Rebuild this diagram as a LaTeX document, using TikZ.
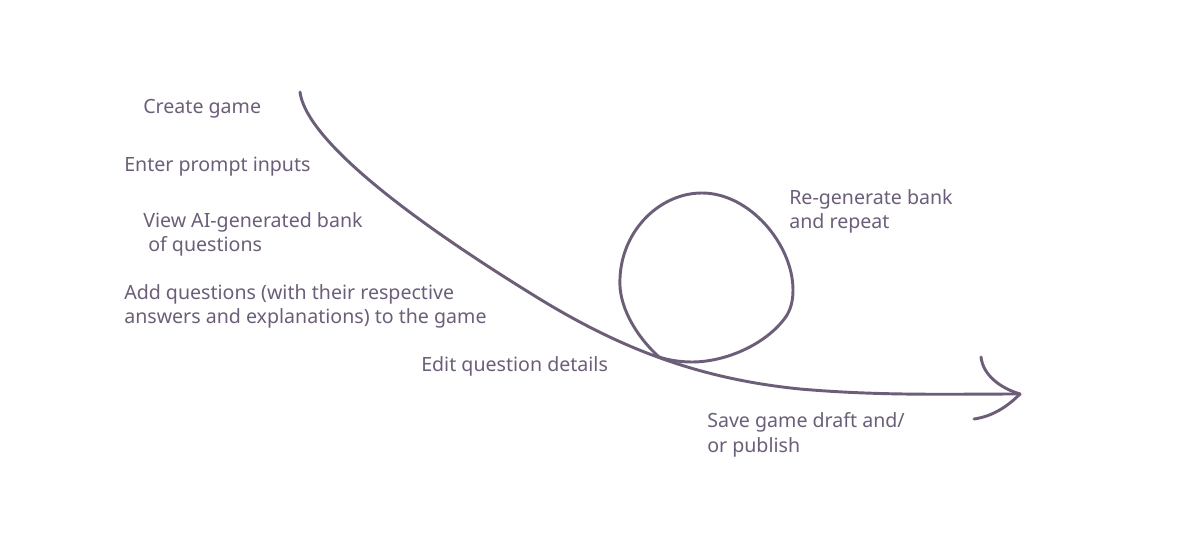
\documentclass[tikz,border=0pt]{standalone}
\usepackage{fontspec}
\setmainfont{Noto Sans}
\definecolor{ink}{RGB}{108,94,121}
\begin{document}
\begin{tikzpicture}[x=0.75pt,y=-0.75pt,
  lbl/.style={anchor=base west,inner sep=0pt,text=ink,font=\fontsize{14.7}{18}\selectfont},
  flow/.style={draw=ink,line width=2.2pt,line cap=round}]
\useasboundingbox (0,0) rectangle (1200,559);
\fill[white] (0,0) rectangle (1200,559);
% labels
\node[lbl] (create) at (143,114) {Create game};
\node[lbl] (enter) at (124,172) {Enter prompt inputs};
\node[lbl] (view1) at (143,228) {View AI-generated bank};
\node[lbl] (view2) at (148,252) {of questions};
\node[lbl] (add1) at (124,300) {Add questions (with their respective};
\node[lbl] (add2) at (124,324) {answers and explanations) to the game};
\node[lbl] (edit) at (421,372) {Edit question details};
\node[lbl] (regen1) at (789,205) {Re-generate bank};
\node[lbl] (regen2) at (789,229) {and repeat};
\node[lbl] (save1) at (707,428) {Save game draft and/};
\node[lbl] (save2) at (707,453) {or publish};
% path coordinates
\coordinate (start) at (300,92);
\coordinate (mid) at (530,293);
\coordinate (bend) at (800,389);
\coordinate (tip) at (1020,394);
\coordinate (cross) at (659,357);
\coordinate (up) at (981,357);
\coordinate (low) at (974,419);
% main curve
\draw[flow] (start) .. controls (305,132) and (380,200) .. (mid)
  .. controls (610,343) and (690,378) .. (bend)
  .. controls (880,396) and (950,394) .. (tip);
% loop
\draw[flow] (cross) .. controls (635,335) and (618,305) .. (620,278)
  .. controls (622,230) and (660,193) .. (702,193)
  .. controls (750,193) and (793,245) .. (793,290)
  .. controls (793,300) and (791,310) .. (785,318)
  .. controls (765,345) and (725,362) .. (692,362)
  .. controls (680,362) and (668,360) .. (cross);
% arrowhead
\draw[flow] (up) .. controls (983,375) and (1000,388) .. (tip);
\draw[flow] (low) .. controls (995,416) and (1010,404) .. (tip);
\end{tikzpicture}
\end{document}
